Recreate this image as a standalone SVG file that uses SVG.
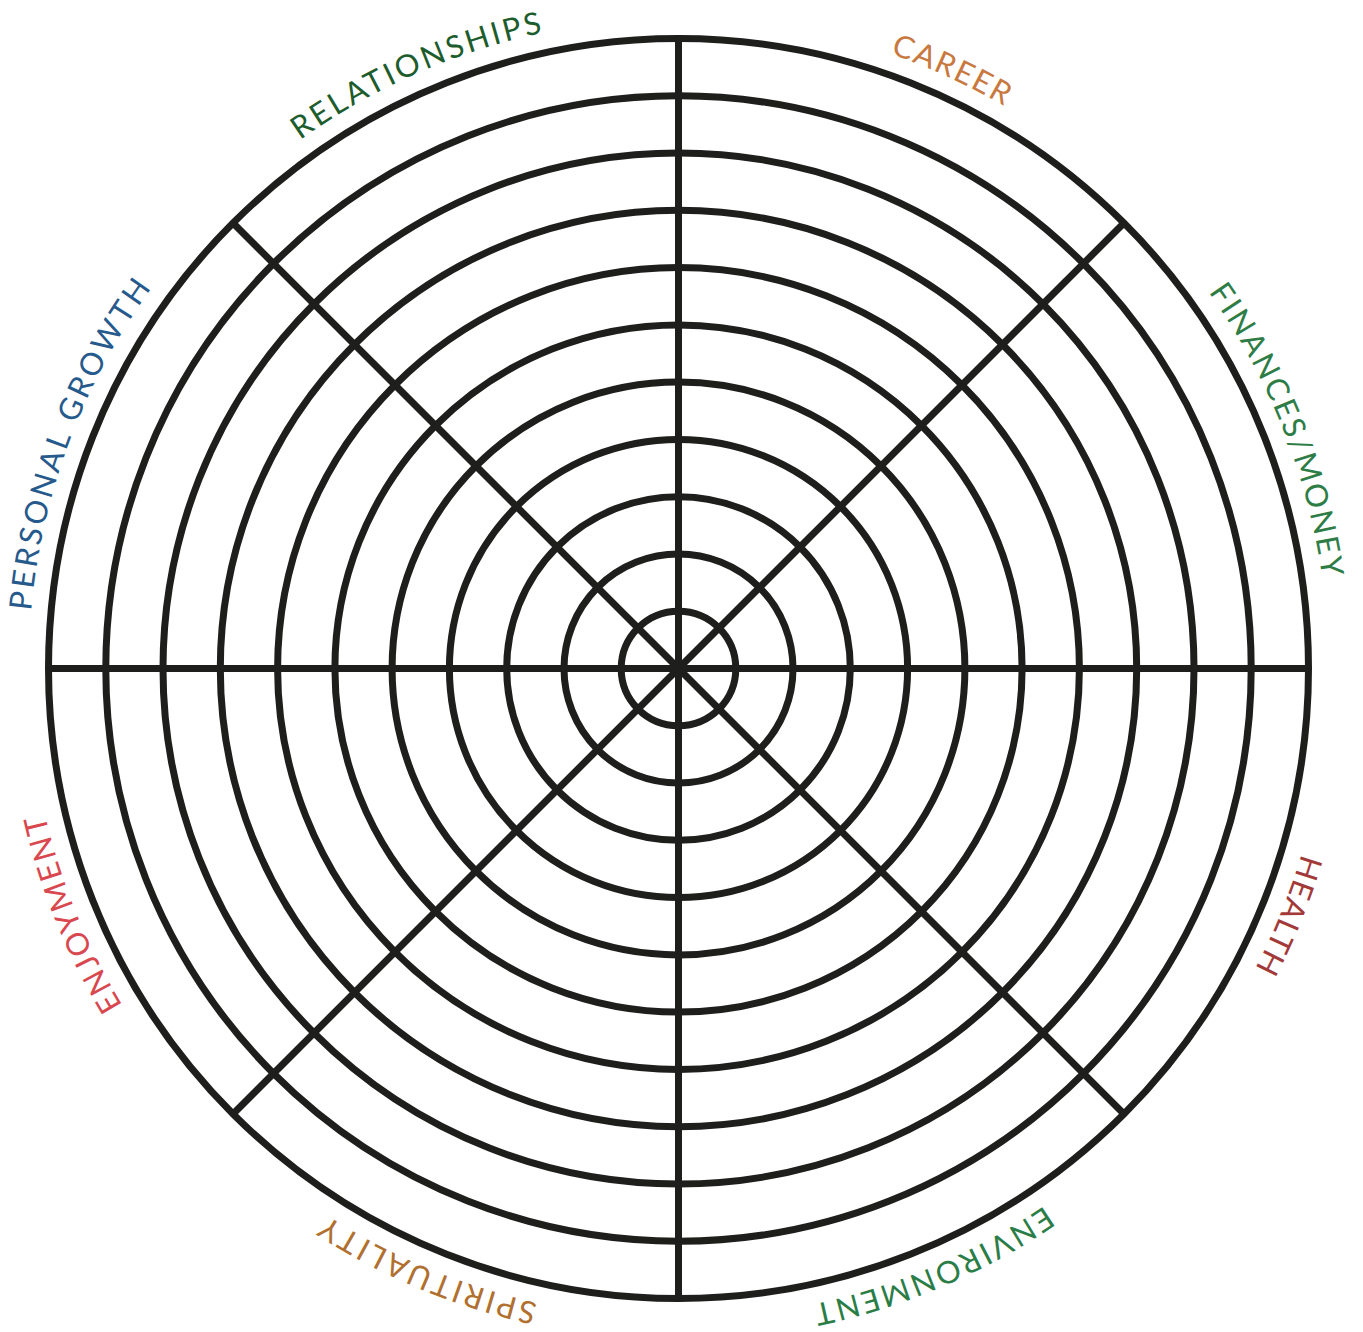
<svg xmlns="http://www.w3.org/2000/svg" xmlns:xlink="http://www.w3.org/1999/xlink" width="1363" height="1332" viewBox="0 0 1363 1332">
<style>
.ring{fill:none;stroke:#1e1e1c;stroke-width:7}
.spoke{stroke:#1e1e1c;stroke-width:7;stroke-linecap:butt}
.lbl{font-family:Lato,"Liberation Sans",sans-serif;font-size:31px;letter-spacing:3px}
</style>
<defs>
<path id="arc" d="M 28.5,668.5 A 650 650 0 1 1 1328.5,668.5 A 650 650 0 1 1 28.5,668.5"/>
</defs>
<rect width="1363" height="1332" fill="#ffffff"/>
<g id="rings">
<circle class="ring" cx="678.5" cy="668.5" r="57.3"/>
<circle class="ring" cx="678.5" cy="668.5" r="114.5"/>
<circle class="ring" cx="678.5" cy="668.5" r="171.8"/>
<circle class="ring" cx="678.5" cy="668.5" r="229.1"/>
<circle class="ring" cx="678.5" cy="668.5" r="286.4"/>
<circle class="ring" cx="678.5" cy="668.5" r="343.6"/>
<circle class="ring" cx="678.5" cy="668.5" r="400.9"/>
<circle class="ring" cx="678.5" cy="668.5" r="458.2"/>
<circle class="ring" cx="678.5" cy="668.5" r="515.5"/>
<circle class="ring" cx="678.5" cy="668.5" r="572.7"/>
<circle class="ring" cx="678.5" cy="668.5" r="630"/>
</g>
<g id="connectors">
<line class="spoke" x1="48.5" y1="668.5" x2="1308.5" y2="668.5"/>
<line class="spoke" x1="678.5" y1="38.5" x2="678.5" y2="1298.5"/>
<line class="spoke" x1="233" y1="223" x2="1124" y2="1114"/>
<line class="spoke" x1="1124" y1="223" x2="233" y2="1114"/>
</g>
<g id="labels" text-anchor="middle">
<g id="label-personal-growth"><text class="lbl" fill="#265a8c"><textPath xlink:href="#arc" href="#arc" startOffset="233.7" textLength="352" lengthAdjust="spacing">PERSONAL GROWTH</textPath></text></g>
<g id="label-relationships"><text class="lbl" fill="#1d5c2c"><textPath xlink:href="#arc" href="#arc" startOffset="752.1" textLength="270" lengthAdjust="spacing">RELATIONSHIPS</textPath></text></g>
<g id="label-career"><text class="lbl" fill="#c8793f"><textPath xlink:href="#arc" href="#arc" startOffset="1300.7" textLength="128" lengthAdjust="spacing">CAREER</textPath></text></g>
<g id="label-finances"><text class="lbl" fill="#2e7d46"><textPath xlink:href="#arc" href="#arc" startOffset="1797" textLength="313" lengthAdjust="spacing">FINANCES/MONEY</textPath></text></g>
<g id="label-health"><text class="lbl" fill="#a33a3a"><textPath xlink:href="#arc" href="#arc" startOffset="2293.3" textLength="127" lengthAdjust="spacing">HEALTH</textPath></text></g>
<g id="label-environment"><text class="lbl" fill="#2a7d46"><textPath xlink:href="#arc" href="#arc" startOffset="2802.1" textLength="256" lengthAdjust="spacing">ENVIRONMENT</textPath></text></g>
<g id="label-spirituality"><text class="lbl" fill="#b07030"><textPath xlink:href="#arc" href="#arc" startOffset="3320.6" textLength="232" lengthAdjust="spacing">SPIRITUALITY</textPath></text></g>
<g id="label-enjoyment"><text class="lbl" fill="#d9474f"><textPath xlink:href="#arc" href="#arc" startOffset="3834.5" textLength="210" lengthAdjust="spacing">ENJOYMENT</textPath></text></g>
</g>
</svg>
